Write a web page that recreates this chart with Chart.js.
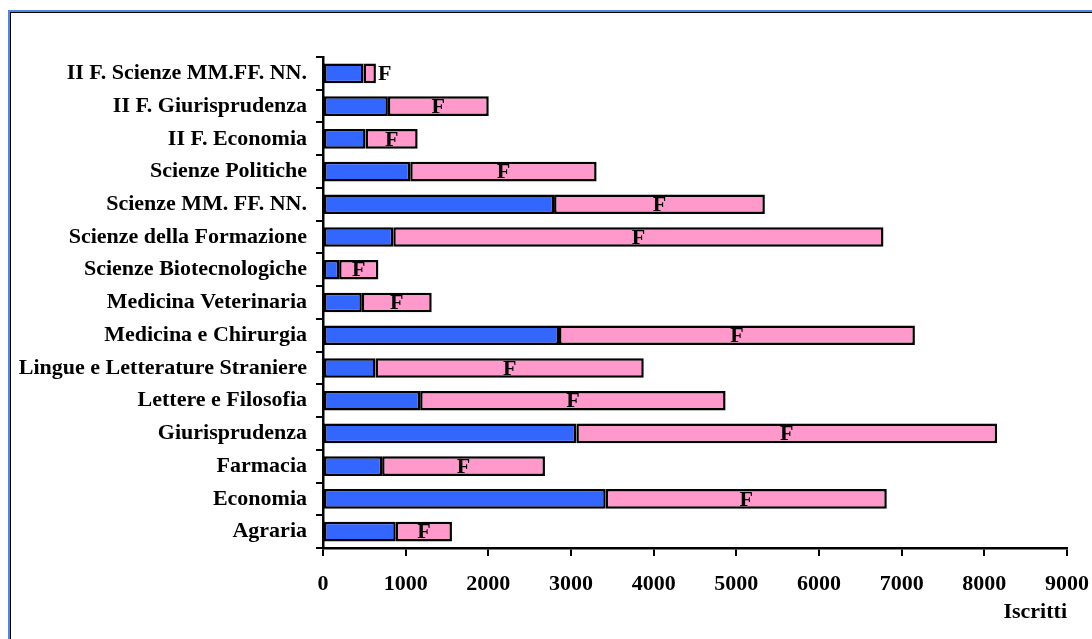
<!DOCTYPE html>
<html>
<head>
<meta charset="utf-8">
<script src="https://cdn.jsdelivr.net/npm/chart.js@4.4.0/dist/chart.umd.min.js"></script>
<style>
html,body{margin:0;padding:0;background:#fff;overflow:hidden}
#wrap{position:relative;width:1092px;height:639px}
#frame{position:absolute;left:8px;top:10px;width:1200px;height:800px;border:2px solid #4f86d9;box-shadow:inset 0 0 0 1px #000}
#c{position:absolute;left:0;top:0}
</style>
</head>
<body>
<div id="wrap">
<div id="frame"></div>
<canvas id="c" width="1092" height="639"></canvas>
</div>
<script>
// ================= DATA =================
const facolta = [
"II F. Scienze MM.FF. NN.","II F. Giurisprudenza","II F. Economia","Scienze Politiche",
"Scienze MM. FF. NN.","Scienze della Formazione","Scienze Biotecnologiche","Medicina Veterinaria",
"Medicina e Chirurgia","Lingue e Letterature Straniere","Lettere e Filosofia","Giurisprudenza",
"Farmacia","Economia","Agraria"
];

const maschi = [490,785,515,1055,2795,850,195,470,2855,635,1175,3065,715,3420,880];
const femmine = [150,1220,630,2255,2550,5930,475,845,4305,3245,3695,5090,1970,3400,680];

const xTicks = [0,1000,2000,3000,4000,5000,6000,7000,8000,9000];

const FONT = "'Liberation Serif','Times New Roman',serif";


// ================= LABEL F =================
const labelF = {
id:"labelF",
afterDatasetsDraw(chart){
let ctx = chart.ctx;
let meta = chart.getDatasetMeta(1);
ctx.save();
ctx.font = "bold 22px " + FONT;
ctx.fillStyle = "#000";
ctx.textAlign = "center";
ctx.textBaseline = "middle";
let tw = ctx.measureText("F").width;
meta.data.forEach(bar=>{
let w = bar.x - bar.base;
let x = (bar.x + bar.base)/2;
if(w < tw + 6) x = bar.x + 2 + tw/2;
ctx.fillText("F", x, bar.y + 1);
});
ctx.restore();
}
};


// ================= CHART =================
new Chart(document.getElementById("c"),{
type:"bar",
data:{
labels:facolta,
datasets:[{
label:"M",
data:maschi,
backgroundColor:"#3366ff",
borderColor:"#000",
borderWidth:2.5,
borderSkipped:false,
barPercentage:0.6,
categoryPercentage:1
},{
label:"F",
data:femmine,
backgroundColor:"#ff99cc",
borderColor:"#000",
borderWidth:2.5,
borderSkipped:false,
barPercentage:0.6,
categoryPercentage:1
}]
},
options:{
indexAxis:"y",
responsive:false,
animation:false,
layout:{padding:{left:0,right:25,top:57,bottom:0}},
plugins:{legend:{display:false},tooltip:{enabled:false}},
scales:{
x:{
stacked:true,
min:0,max:9000,
afterBuildTicks:s=>{ s.ticks = xTicks.map(v=>({value:v})) },
afterFit:s=>{ s.height = 91; s.paddingLeft = 0; s.paddingRight = 0 },
border:{color:"#000",width:2.5},
grid:{drawOnChartArea:false,color:"#000",lineWidth:2,tickLength:8},
ticks:{color:"#000",padding:15,maxRotation:0,autoSkip:false,
callback:v=>String(v),
font:{family:FONT,size:22,weight:"bold"}},
title:{display:true,text:"Iscritti",align:"end",color:"#000",padding:{top:0,bottom:13},font:{family:FONT,size:22,weight:"bold"}}
},
y:{
stacked:true,
afterFit:s=>{ s.width = 323; s.paddingTop = 0; s.paddingBottom = 0 },
border:{color:"#000",width:2.5},
grid:{drawOnChartArea:false,color:"#000",lineWidth:2,tickLength:7,offset:true},
ticks:{color:"#000",padding:9,autoSkip:false,font:{family:FONT,size:22,weight:"bold"}}
}
}
},
plugins:[labelF]
});
</script>
</body>
</html>
